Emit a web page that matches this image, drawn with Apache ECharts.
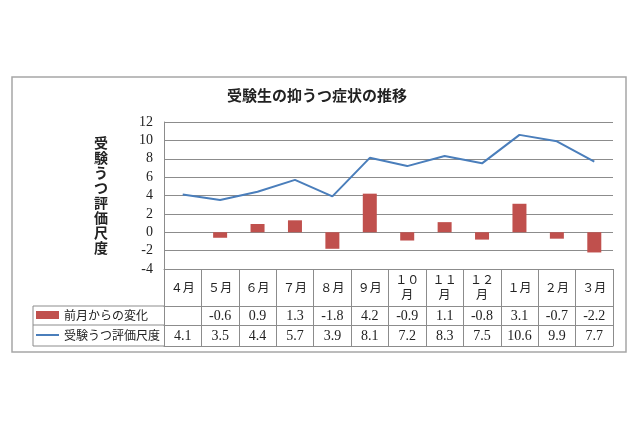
<!DOCTYPE html>
<html>
<head>
<meta charset="utf-8">
<script src="https://cdn.jsdelivr.net/npm/echarts@6/dist/echarts.min.js"></script>
<style>html,body{margin:0;padding:0;background:#fff;}#c{width:640px;height:426px;}</style>
</head>
<body>
<div id="c"></div>
<script>
const titleText = '受験生の抑うつ症状の推移';
const yAxisName = '受験うつ評価尺度';
const months = ['４月','５月','６月','７月','８月','９月','１０\n月','１１\n月','１２\n月','１月','２月','３月'];
const barName = '前月からの変化';
const lineName = '受験うつ評価尺度';
const barValues = [null, -0.6, 0.9, 1.3, -1.8, 4.2, -0.9, 1.1, -0.8, 3.1, -0.7, -2.2];
const lineValues = [4.1, 3.5, 4.4, 5.7, 3.9, 8.1, 7.2, 8.3, 7.5, 10.6, 9.9, 7.7];
const yMin = -4, yMax = 12, yStep = 2;

const GRID = '#8c8c8c';
const TXT = '#222';
const SERIF = '"Liberation Serif", "DejaVu Serif", serif';
const CJK = '"Noto Sans CJK JP", sans-serif';

const chart = echarts.init(document.getElementById('c'), null, {renderer: 'canvas'});

function tableAxis(offset, tickLen, values, margin) {
  return {
    type: 'category', gridIndex: 0, position: 'bottom', offset: offset,
    data: months,
    axisLine: {show: true, onZero: false, lineStyle: {color: GRID, width: 1}},
    axisTick: {show: tickLen > 0, interval: 0, length: tickLen, inside: false, lineStyle: {color: GRID, width: 1}},
    axisLabel: {
      show: !!values, interval: 0, margin: margin, verticalAlign: 'middle',
      fontFamily: SERIF, fontSize: 14, color: TXT,
      formatter: function (v, i) { return values && values[i] != null ? values[i].toFixed(1) : ''; }
    },
    splitLine: {show: false}
  };
}

const option = {
  backgroundColor: '#fff',
  animation: false,
  title: {
    text: titleText, left: 227, top: 88, padding: 0,
    textStyle: {fontFamily: CJK, fontSize: 15, fontWeight: 'bold', color: TXT}
  },
  legend: {
    orient: 'vertical', left: 36, top: 308, itemGap: 6, padding: 0,
    itemWidth: 23, itemHeight: 8,
    textStyle: {fontFamily: CJK, fontSize: 12, color: TXT, lineHeight: 14},
    data: [
      {name: barName, icon: 'rect'},
      {name: lineName, icon: 'path://M0,0 L23,0 L23,2 L0,2 Z'}
    ]
  },
  grid: {left: 164, right: 27, top: 122, height: 147, containLabel: false},
  xAxis: [
    {
      type: 'category', gridIndex: 0, position: 'bottom', data: months,
      axisLine: {show: true, onZero: false, lineStyle: {color: GRID, width: 1}},
      axisTick: {show: true, interval: 0, length: 37, inside: false, lineStyle: {color: GRID, width: 1}},
      axisLabel: {interval: 0, margin: 18, verticalAlign: 'middle', fontFamily: CJK, fontSize: 12, lineHeight: 15, color: TXT},
      splitLine: {show: false}
    },
    tableAxis(37, 19, barValues, 10),
    tableAxis(56, 21, lineValues, 11),
    tableAxis(77, 0, null, 0)
  ],
  yAxis: {
    type: 'value', min: yMin, max: yMax, interval: yStep,
    name: yAxisName.split('').join('\n'),
    nameLocation: 'middle', nameRotate: 0, nameGap: 56,
    nameTextStyle: {fontFamily: CJK, fontSize: 14, fontWeight: 'bold', lineHeight: 15, color: TXT, padding: [0, 0, 6, 0]},
    axisLine: {show: true, lineStyle: {color: GRID, width: 1}},
    axisTick: {show: false},
    axisLabel: {margin: 11, fontFamily: SERIF, fontSize: 14, color: TXT},
    splitLine: {show: true, lineStyle: {color: GRID, width: 1}}
  },
  series: [
    {
      name: barName, type: 'bar', data: barValues, barWidth: 14,
      itemStyle: {color: '#C0504D'}
    },
    {
      name: lineName, type: 'line', data: lineValues, symbol: 'none',
      lineStyle: {color: '#4A7EBB', width: 2}, itemStyle: {color: '#4A7EBB'}
    }
  ],
  graphic: [
    {type: 'rect', shape: {x: 12, y: 77, width: 614, height: 275}, style: {fill: null, stroke: '#a6a6a6', lineWidth: 1.5}, silent: true},
    {type: 'line', shape: {x1: 33, y1: 306, x2: 164, y2: 306}, style: {stroke: GRID, lineWidth: 1}, silent: true},
    {type: 'line', shape: {x1: 33, y1: 325, x2: 164, y2: 325}, style: {stroke: GRID, lineWidth: 1}, silent: true},
    {type: 'line', shape: {x1: 33, y1: 346, x2: 164, y2: 346}, style: {stroke: GRID, lineWidth: 1}, silent: true},
    {type: 'line', shape: {x1: 33, y1: 306, x2: 33, y2: 346}, style: {stroke: GRID, lineWidth: 1}, silent: true}
  ]
};
chart.setOption(option);
</script>
</body>
</html>
